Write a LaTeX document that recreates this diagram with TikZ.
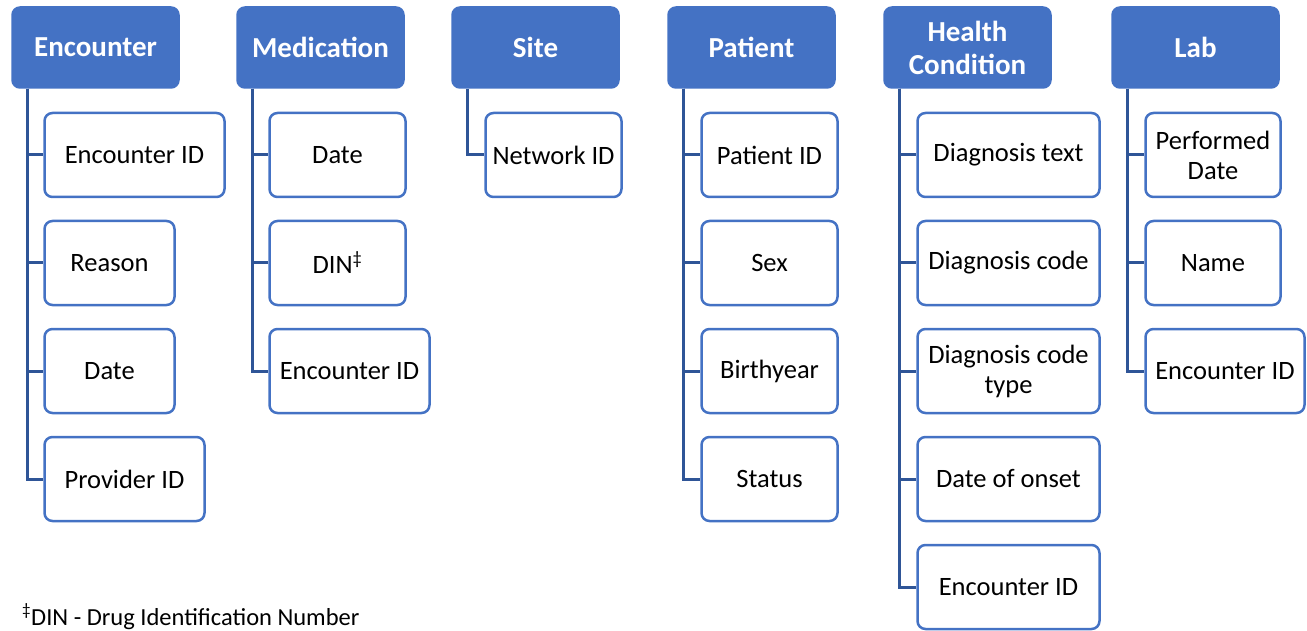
\documentclass[tikz,border=0pt]{standalone}
\usepackage{fontspec}
\setmainfont{Carlito}
\usetikzlibrary{arrows.meta}
\definecolor{hdblue}{HTML}{4472C4}
\definecolor{lnblue}{HTML}{2F5597}
\tikzset{
  head/.style={draw=hdblue, fill=hdblue, rounded corners=8pt, line width=1.5pt, minimum width=167pt, minimum height=81pt, align=center, text=white, font=\fontsize{29}{33}\selectfont\bfseries},
  item/.style={draw=hdblue, fill=white, rounded corners=8pt, line width=2.5pt, minimum width=#1, minimum height=84pt, align=center, inner xsep=2pt, font=\fontsize{26.5}{30}\selectfont},
  item/.default=136pt,
  link/.style={draw=lnblue, line width=3pt},
}

\begin{document}
\begin{tikzpicture}[x=1pt, y=-1pt]
    \useasboundingbox (0,0) rectangle (1307,631);
    \node[head] (enc) at (95.5,47.5) {Encounter};
    \node[head] (med) at (320.5,47.5) {Medication};
    \node[head] (site) at (535.5,47.5) {Site};
    \node[head] (pat) at (751.5,47.5) {Patient};
    \node[head] (hc) at (967.5,47.5) {Health\\Condition};
    \node[head] (lab) at (1195.5,47.5) {Lab};
    \node[item=180pt] (enc1) at (134.5,155) {Encounter ID};
    \node[item=130pt] (enc2) at (109.5,263) {Reason};
    \node[item=130pt] (enc3) at (109.5,371) {Date};
    \node[item=160pt] (enc4) at (124.5,479) {Provider ID};
    \node[item] (med1) at (337.5,155) {Date};
    \node[item] (med2) at (337.5,263) {DIN\textsuperscript{\ddag}};
    \node[item=160pt] (med3) at (349.5,371) {Encounter ID};
    \node[item] (site1) at (553.5,155) {Network ID};
    \node[item] (pat1) at (769.5,155) {Patient ID};
    \node[item] (pat2) at (769.5,263) {Sex};
    \node[item] (pat3) at (769.5,371) {Birthyear};
    \node[item] (pat4) at (769.5,479) {Status};
    \node[item=182pt] (hc1) at (1008.5,155) {Diagnosis text};
    \node[item=182pt] (hc2) at (1008.5,263) {Diagnosis code};
    \node[item=182pt] (hc3) at (1008.5,371) {Diagnosis code\\type};
    \node[item=182pt] (hc4) at (1008.5,479) {Date of onset};
    \node[item=182pt] (hc5) at (1008.5,587) {Encounter ID};
    \node[item=135pt] (lab1) at (1213,155) {Performed\\Date};
    \node[item=135pt] (lab2) at (1213,263) {Name};
    \node[item=159pt] (lab3) at (1225,371) {Encounter ID};
    \node[anchor=base west, inner sep=0pt, font=\fontsize{24.5}{28}\selectfont] (note) at (22,625) {\textsuperscript{\ddag}DIN - Drug Identification Number};
    \foreach \h/\n in {enc/4, med/3, site/1, pat/4, hc/5, lab/3}{
      \foreach \i in {1,...,\n}{
        \draw[link] ([xshift=16pt]\h.south west) |- (\h\i.west);
      }
    }
  \end{tikzpicture}
\end{document}
